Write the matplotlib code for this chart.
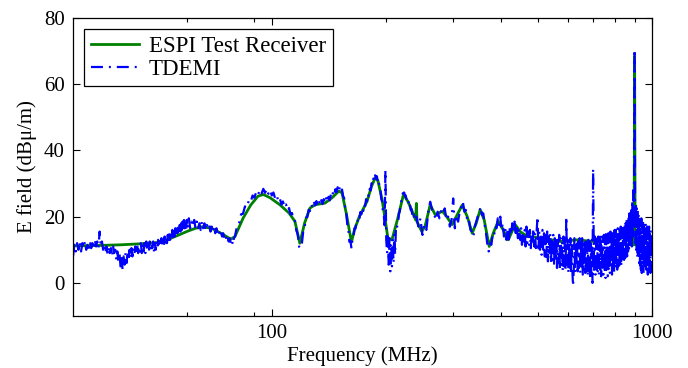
import matplotlib
matplotlib.use('Agg')
import matplotlib.pyplot as plt
from matplotlib.ticker import FixedLocator, NullFormatter, FuncFormatter

# ESPI test receiver (smooth trace)
espi_freq = [30, 35, 40, 45, 50, 53, 57, 60, 63, 66, 70, 74, 78, 80, 84, 88, 92, 95, 99,
             105, 111, 115, 118.5, 122, 126, 130, 138, 144, 150, 153, 157, 162, 165, 170,
             178, 183, 187, 190, 195, 199, 202, 207, 214, 222, 228, 235, 239, 240, 241,
             248, 253, 261, 269, 281, 286, 298, 305.5, 316.8, 326.7, 336.6, 344.8, 353.3,
             362.0, 373.1, 382.3, 393.9, 406.1, 418.6, 436.7, 450.2, 469.7, 517.6, 573.6,
             636, 700.8, 777, 861, 880, 891, 897, 900, 903, 920, 958, 1000]
espi_db = [11.2, 11.3, 11.5, 11.8, 12.2, 13.0, 14.5, 15.6, 16.5, 17.0, 16.3, 14.8, 13.2,
           14.0, 19.5, 23.5, 26.2, 26.7, 25.7, 23.6, 21.1, 18.6, 12.0, 18.1, 22.6, 23.6,
           24.1, 25.7, 27.7, 27.2, 21.0, 12.3, 16.1, 20.1, 24.6, 29.2, 31.7, 31.0, 25.2,
           18.6, 13.5, 13.0, 19.1, 26.7, 24.6, 21.1, 19.0, 24.0, 18.5, 15.5, 17.1, 23.6,
           20.6, 21.6, 20.6, 17.6, 20.0, 23.5, 20.0, 15.0, 18.0, 22.1, 19.0, 11.0, 15.0,
           18.6, 16.0, 13.0, 17.6, 15.5, 14.0, 13.5, 12.5, 13.0, 12.5, 12.5, 14.0, 12.0,
           11.5, 11.5, 68.5, 11.5, 11.8, 12.0, 12.0]

tdemi_freq_low = [30.00, 30.25, 30.50, 30.75, 31.00, 31.25, 31.50, 31.75,
                  32.00, 32.25, 32.50, 32.75, 33.00, 33.25, 33.50, 33.75,
                  34.00, 34.25, 34.50, 34.75, 35.00, 35.25, 35.50, 35.75,
                  36.00, 36.25, 36.50, 36.75, 37.00, 37.25, 37.50, 37.75,
                  38.00, 38.25, 38.50, 38.75, 39.00, 39.25, 39.50, 39.75,
                  40.00, 40.25, 40.50, 40.75, 41.00, 41.25, 41.50, 41.75,
                  42.00, 42.25, 42.50, 42.75, 43.00, 43.25, 43.50, 43.75,
                  44.00, 44.25, 44.50, 44.75, 45.00, 45.25, 45.50, 45.75,
                  46.00, 46.25, 46.50, 46.75, 47.00, 47.25, 47.50, 47.75,
                  48.00, 48.25, 48.50, 48.75, 49.00, 49.25, 49.50, 49.75,
                  50.00, 50.25, 50.50, 50.75, 51.00, 51.25, 51.50, 51.75,
                  52.00, 52.25, 52.50, 52.75, 53.00, 53.25, 53.50, 53.75,
                  54.00, 54.25, 54.50, 54.75, 55.00, 55.25, 55.50, 55.75,
                  56.00, 56.25, 56.50, 56.75, 57.00, 57.25, 57.50, 57.75,
                  58.00, 58.25, 58.50, 58.75, 59.00, 59.25, 59.50, 59.75,
                  60.0, 60.5, 61.0, 61.5, 62.0, 62.5, 63.0, 63.5, 64.0, 64.5,
                  65.0, 65.5, 66.0, 66.5, 67.0, 67.5, 68.0, 68.5, 69.0, 69.5,
                  70.0, 70.5, 71.0, 71.5, 72.0, 72.5, 73.0, 73.5, 74.0, 74.5,
                  75.0, 75.5, 76.0, 76.5, 77.0, 77.5, 78.0, 78.5, 79.0, 79.5]
tdemi_db_low = [8.0, 11.5, 9.5, 12.0, 10.0, 12.5, 9.5, 12.0,
                10.5, 12.5, 10.0, 11.5, 9.5, 12.5, 10.5, 12.0,
                10.5, 13.0, 11.0, 12.5, 10.5, 15.5, 11.0, 12.5,
                10.0, 11.5, 9.0, 11.0, 8.5, 11.0, 9.0, 10.5,
                8.0, 11.0, 9.0, 10.0, 7.0, 9.5, 6.0, 9.0,
                5.0, 8.5, 4.0, 8.0, 5.5, 9.0, 6.0, 9.5,
                7.0, 10.0, 7.5, 10.5, 8.0, 10.5, 8.5, 11.0,
                8.5, 11.5, 9.0, 11.0, 9.5, 12.0, 9.0, 11.5,
                9.5, 12.0, 9.0, 12.5, 10.0, 11.5, 9.5, 12.5,
                10.0, 12.0, 10.5, 12.5, 9.5, 12.0, 10.0, 12.5,
                10.5, 13.0, 11.0, 12.5, 11.0, 13.5, 11.5, 13.0,
                11.0, 14.0, 11.5, 13.5, 12.0, 14.5, 12.5, 15.0,
                13.0, 15.5, 13.5, 16.0, 13.5, 16.0, 14.0, 16.5,
                14.5, 17.0, 15.0, 17.5, 15.0, 17.5, 15.5, 18.0,
                16.0, 18.5, 16.0, 19.0, 16.5, 18.5, 16.0, 19.0,
                16.5, 19.5, 16.5, 18.5, 17.0, 19.0, 16.5, 18.5, 16.5, 18.0,
                16.0, 18.5, 16.5, 18.0, 16.0, 17.5, 16.5, 17.5, 15.5, 17.0,
                15.5, 17.0, 15.0, 16.5, 15.0, 16.0, 14.5, 15.5, 14.0, 15.0,
                13.5, 14.5, 13.0, 14.0, 12.5, 13.5, 12.0, 13.0, 11.5, 13.5]

tdemi_freq_mid = [80, 81, 82, 83, 84, 85, 86, 87, 88, 89,
                  90, 91, 92, 93, 94, 95, 96, 97, 98, 99,
                  100, 101, 102, 103, 104, 105, 106, 107, 108, 109,
                  110, 111, 112, 113, 114, 115, 116, 117, 118, 119,
                  120, 121, 122, 123, 124, 125, 126, 127, 128, 129,
                  130, 131, 132, 133, 134, 135, 136, 137, 138, 139,
                  140, 141, 142, 143, 144, 145, 146, 147, 148, 149,
                  150, 151, 152, 153, 154, 155, 156, 157, 158, 159,
                  160, 161, 162, 163, 164, 165, 166, 167, 168, 169,
                  170, 171, 172, 173, 174, 175, 176, 177, 178, 179,
                  180, 181, 182, 183, 184, 185, 186, 187, 188, 189,
                  190, 191, 192, 193, 194, 195, 196, 197, 198, 199,
                  200, 201, 202, 203, 204, 205, 206, 207, 208, 209,
                  210, 211, 212, 213, 214, 215, 216, 217, 218, 219,
                  220, 221, 222, 223, 224, 225, 226, 227, 228, 229,
                  230, 231, 232, 233, 234, 235, 236, 237, 238, 239]
tdemi_db_mid = [14.0, 17.2, 17.9, 20.7, 20.9, 23.1, 22.7, 24.9, 24.4, 26.4,
                25.7, 27.5, 26.6, 28.1, 27.0, 28.4, 27.2, 28.4, 26.9, 28.0,
                26.4, 27.3, 25.6, 26.5, 24.7, 25.5, 23.6, 24.6, 22.9, 23.7,
                21.9, 22.6, 20.7, 21.1, 18.9, 18.7, 15.9, 14.7, 10.9, 10.5,
                11.9, 15.7, 16.9, 19.7, 19.9, 22.1, 21.7, 23.6, 22.9, 24.5,
                23.4, 24.7, 23.4, 24.8, 23.6, 25.0, 23.8, 25.3, 24.2, 25.6,
                24.4, 26.0, 24.9, 26.7, 25.9, 27.5, 26.6, 28.3, 27.4, 28.9,
                27.7, 29.0, 27.6, 28.2, 26.2, 25.6, 22.4, 21.2, 17.4, 16.2,
                12.4, 12.7, 10.4, 13.4, 13.9, 16.5, 16.4, 18.6, 18.2, 20.1,
                19.4, 21.4, 20.7, 22.5, 21.7, 23.8, 23.2, 25.3, 24.7, 26.8,
                26.2, 28.4, 27.9, 30.1, 29.6, 31.5, 30.9, 32.5, 31.4, 32.2,
                30.4, 31.0, 28.9, 28.5, 25.4, 24.7, 21.4, 20.7, 17.4, 34.0,
                13.0, 9.0, 14.0, 5.5, 13.5, 3.5, 12.0, 5.0, 13.0, 6.0,
                14.5, 8.5, 16.0, 15.5, 18.0, 18.5, 21.0, 21.5, 23.5, 24.5,
                26.0, 27.0, 27.2, 27.3, 26.2, 26.4, 25.3, 25.5, 24.0, 24.4,
                22.8, 23.4, 22.0, 22.3, 20.8, 21.4, 20.0, 20.5, 19.2, 19.8]

tdemi_freq_upper = [240, 243, 246, 249, 252, 255, 258, 261, 264, 267,
                    270, 273, 276, 279, 282, 285, 288, 291, 294, 297,
                    300, 303, 306, 309, 312, 315, 318, 321, 324, 327,
                    330, 333, 336, 339, 342, 345, 348, 351, 354, 357,
                    360, 363, 366, 369, 372, 375, 378, 381, 384, 387,
                    390, 393, 396, 399, 402, 405, 408, 411, 414, 417,
                    420, 423, 426, 429, 432, 435, 438, 441, 444, 447]
tdemi_db_upper = [20.0, 17.0, 19.5, 14.5, 17.5, 16.0, 21.5, 24.5, 22.0, 21.0,
                  19.0, 21.5, 19.5, 22.0, 21.0, 22.5, 19.0, 20.0, 17.0, 19.0,
                  25.5, 16.5, 20.5, 18.5, 21.5, 23.0, 24.5, 21.5, 22.0, 18.5,
                  19.0, 16.0, 15.5, 14.0, 17.0, 18.5, 20.0, 21.0, 23.0, 20.5,
                  21.0, 17.5, 15.0, 11.5, 9.5, 12.0, 11.5, 14.5, 14.0, 17.0,
                  16.5, 19.5, 17.5, 20.0, 16.0, 18.0, 14.0, 16.5, 13.0, 16.0,
                  12.5, 17.0, 14.5, 18.0, 15.5, 18.5, 14.0, 17.0, 13.5, 16.5]

tdemi_freq_high = [450, 452.5, 455, 457.5, 460, 462.5, 465, 467.5, 470, 472.5,
                   475, 477.5, 480, 482.5, 485, 487.5, 490, 492.5, 495, 497.5,
                   500, 502.5, 505, 507.5, 510, 512.5, 515, 517.5, 520, 522.5,
                   525, 527.5, 530, 532.5, 535, 537.5, 540, 542.5, 545, 547.5,
                   550, 552.5, 555, 557.5, 560, 562.5, 565, 567.5, 570, 572.5,
                   575, 577.5, 580, 582.5, 585, 587.5, 590, 592.5, 595, 597.5,
                   600, 602.5, 605, 607.5, 610, 612.5, 615, 617.5, 620, 622.5,
                   625, 627.5, 630, 632.5, 635, 637.5, 640, 642.5, 645, 647.5,
                   650, 652.5, 655, 657.5, 660, 662.5, 665, 667.5, 670, 672.5,
                   675, 677.5, 680, 682.5, 685, 687.5, 690, 692.5, 695, 697.5,
                   700, 702.5, 705, 707.5, 710, 712.5, 715, 717.5, 720, 722.5,
                   725, 727.5, 730, 732.5, 735, 737.5, 740, 742.5, 745, 747.5,
                   750, 752.5, 755, 757.5, 760, 762.5, 765, 767.5, 770, 772.5,
                   775, 777.5, 780, 782.5, 785, 787.5, 790, 792.5, 795, 797.5,
                   800, 802.5, 805, 807.5, 810, 812.5, 815, 817.5, 820, 822.5,
                   825, 827.5, 830, 832.5, 835, 837.5, 840, 842.5, 845, 847.5,
                   850, 852.5, 855, 857.5, 860, 862.5, 865, 867.5, 870, 872.5,
                   875, 877.5, 880, 882.5, 885, 887.5, 890, 892.5, 895, 897.5,
                   900, 902.5, 905, 907.5, 910, 912.5, 915, 917.5, 920, 922.5,
                   925, 927.5, 930, 932.5, 935, 937.5, 940, 942.5, 945, 947.5,
                   950, 952.5, 955, 957.5, 960, 962.5, 965, 967.5, 970, 972.5,
                   975, 977.5, 980, 982.5, 985, 987.5, 990, 992.5, 995, 997.5,
                   1000]
tdemi_db_high = [13.0, 16.5, 11.5, 15.5, 12.5, 16.0, 11.0, 17.0, 12.0, 15.5,
                 11.5, 16.0, 10.5, 15.0, 12.0, 16.5, 11.0, 15.0, 10.5, 16.0,
                 20.0, 9.5, 15.5, 10.0, 14.5, 8.5, 16.0, 9.0, 15.0, 8.0,
                 14.5, 7.5, 15.5, 6.5, 14.0, 8.0, 15.0, 6.0, 13.5, 7.0,
                 14.5, 5.0, 13.5, 6.5, 14.0, 4.5, 13.0, 6.0, 14.5, 4.0,
                 13.5, 5.5, 12.5, 3.5, 14.0, 5.0, 13.0, 4.0, 20.0, 5.5,
                 13.0, 3.0, 12.5, 4.0, 13.5, 2.5, 12.5, 3.5, -1.0, 4.0,
                 13.5, 3.0, 12.0, 5.0, 13.0, 3.5, 12.5, 4.5, 13.5, 3.0,
                 12.5, 5.0, 13.5, 2.5, 12.0, 4.0, 13.0, 3.0, 12.5, 4.5,
                 12.0, 2.0, 13.0, 3.5, 12.5, 1.0, 12.0, 3.0, 13.0, 0.0,
                 34.5, 12.5, 3.0, 14.0, 2.5, 13.0, 4.0, 13.5, 3.0, 14.0,
                 2.5, 13.5, 4.0, 14.5, 2.0, 13.0, 3.5, 14.0, 2.5, 14.5,
                 3.5, 14.5, 1.5, 15.0, 4.0, 14.0, 2.0, 15.0, 3.5, 14.5,
                 3.0, 15.5, 5.0, 14.5, 2.5, 15.0, 4.0, 15.5, 3.0, 16.0,
                 4.5, 16.0, 5.5, 15.0, 4.0, 16.5, 5.0, 15.5, 4.5, 16.0,
                 6.0, 17.0, 5.0, 16.5, 7.5, 17.0, 6.0, 16.5, 7.0, 17.5,
                 7.5, 18.0, 8.5, 19.0, 8.0, 19.5, 9.5, 20.0, 10.0, 21.0,
                 10.5, 21.5, 12.0, 23.0, 11.0, 25.0, 14.0, 28.0, 15.0, 33.0,
                 70.5, 22.0, 12.0, 24.0, 9.0, 23.0, 7.5, 22.0, 8.5, 21.0,
                 6.0, 20.0, 5.0, 19.0, 4.0, 19.5, 3.0, 18.0, 5.5, 18.5,
                 3.0, 17.5, 5.5, 16.5, 4.0, 18.0, 3.0, 16.5, 5.0, 17.0,
                 2.5, 16.5, 3.5, 17.0, 4.0, 15.5, 3.0, 16.0, 3.5, 15.0,
                 9.0]

x_ticks = [100, 1000]
x_minor = [60, 90, 200, 300, 400, 500, 600, 700, 800, 900]
y_ticks = [0, 20, 40, 60, 80]
legend_labels = ['ESPI Test Receiver', 'TDEMI']


def plot_chart(save_path='out.png'):
    plt.rcParams['font.family'] = ['Liberation Serif', 'DejaVu Serif']
    plt.rcParams['lines.scale_dashes'] = False

    tdemi_freq = tdemi_freq_low + tdemi_freq_mid + tdemi_freq_upper + tdemi_freq_high
    tdemi_db = tdemi_db_low + tdemi_db_mid + tdemi_db_upper + tdemi_db_high

    fig = plt.figure(figsize=(6.88, 3.68), dpi=100)
    ax = fig.add_axes([73 / 688, 52 / 368, 579 / 688, 298 / 368])

    ax.plot(espi_freq, espi_db, color='#008000', lw=2.0, label=legend_labels[0])
    ax.plot(tdemi_freq, tdemi_db, color='#0000FF', lw=1.6,
            dashes=(8.6, 4.3, 1.4, 4.3), label=legend_labels[1])

    ax.set_xscale('log')
    ax.set_xlim(30, 1000)
    ax.set_ylim(-10, 80)
    ax.xaxis.set_major_locator(FixedLocator(x_ticks))
    ax.xaxis.set_major_formatter(FuncFormatter(lambda v, p: f'{v:g}'))
    ax.xaxis.set_minor_locator(FixedLocator(x_minor))
    ax.xaxis.set_minor_formatter(NullFormatter())
    ax.set_yticks(y_ticks)

    ax.tick_params(which='both', direction='in', top=True, right=True,
                   labelsize=15, width=0.8)
    ax.tick_params(which='major', length=5, pad=6)
    ax.tick_params(which='minor', length=3)
    for s in ax.spines.values():
        s.set_linewidth(0.9)

    ax.set_xlabel('Frequency (MHz)', fontsize=15, labelpad=2)
    ax.set_ylabel('E field (dB\u03bc/m)', fontsize=15, labelpad=5)

    leg = ax.legend(loc='upper left', fontsize=16.5, frameon=True, fancybox=False,
                    framealpha=1, edgecolor='black', handlelength=2.1,
                    handletextpad=0.4, labelspacing=0.05, borderpad=0.3,
                    borderaxespad=0.5)
    leg.get_frame().set_linewidth(0.9)

    fig.savefig(save_path, dpi=100)


def main():
    plot_chart()


if __name__ == "__main__":
    main()
